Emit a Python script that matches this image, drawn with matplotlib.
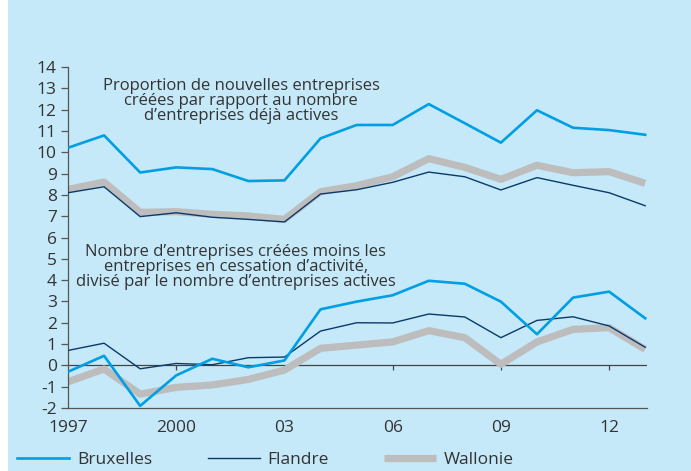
import matplotlib
matplotlib.use("Agg")
import matplotlib.pyplot as plt
from matplotlib.patches import Rectangle

plt.rcParams['font.family'] = ['Open Sans', 'DejaVu Sans']

years = list(range(1997, 2014))

brux_top = [10.21, 10.79, 9.05, 9.29, 9.21, 8.65, 8.68, 10.65, 11.28, 11.28,
            12.26, 11.36, 10.45, 11.97, 11.15, 11.04, 10.82]
fland_top = [8.10, 8.38, 6.98, 7.16, 6.95, 6.85, 6.73, 8.04, 8.24, 8.59,
             9.07, 8.85, 8.23, 8.81, 8.45, 8.10, 7.49]
wall_top = [8.26, 8.60, 7.18, 7.21, 7.09, 7.01, 6.85, 8.15, 8.43, 8.85,
            9.70, 9.29, 8.73, 9.39, 9.04, 9.09, 8.54]

brux_bot = [-0.30, 0.45, -1.90, -0.47, 0.31, -0.09, 0.23, 2.63, 2.99, 3.29,
            3.97, 3.83, 2.99, 1.46, 3.18, 3.46, 2.21]
fland_bot = [0.70, 1.04, -0.16, 0.09, 0.03, 0.36, 0.39, 1.61, 2.00, 1.99,
             2.41, 2.27, 1.30, 2.11, 2.28, 1.85, 0.85]
wall_bot = [-0.77, -0.17, -1.35, -1.03, -0.92, -0.66, -0.22, 0.80, 0.95, 1.10,
            1.63, 1.30, 0.05, 1.10, 1.69, 1.77, 0.75]

xticks = [1997, 2000, 2003, 2006, 2009, 2012]
xticklabels = ['1997', '2000', '03', '06', '09', '12']
yticks = list(range(-2, 15))

series_names = ['Bruxelles', 'Flandre', 'Wallonie']

annot_top = "Proportion de nouvelles entreprises\ncréées par rapport au nombre\nd\u2019entreprises déjà actives"
annot_bot = "Nombre d\u2019entreprises créées moins les\nentreprises en cessation d\u2019activité,\ndivisé par le nombre d\u2019entreprises actives"

BG = '#c5e9f9'
C_BRUX = '#009fe3'
C_FLAN = '#0a3a6b'
C_WALL = '#bdbdbd'
TXT = '#333333'

W, H = 691, 471
fig = plt.figure(figsize=(W / 100, H / 100), dpi=100)
fig.patch.set_facecolor(BG)
fig.patches.append(Rectangle((0, 0), 8 / W, 1, transform=fig.transFigure,
                             facecolor='white', edgecolor='none', zorder=-1))

ax = fig.add_axes([68 / W, 1 - 408 / H, (647 - 68) / W, (408 - 67) / H])
ax.set_facecolor('none')

ax.plot(years, wall_top, color=C_WALL, lw=5.2, solid_capstyle='butt', zorder=2)
ax.plot(years, wall_bot, color=C_WALL, lw=5.2, solid_capstyle='butt', zorder=2)
ax.plot(years, fland_top, color=C_FLAN, lw=1.0, zorder=3)
ax.plot(years, fland_bot, color=C_FLAN, lw=1.0, zorder=3)
ax.plot(years, brux_top, color=C_BRUX, lw=1.9, zorder=4)
ax.plot(years, brux_bot, color=C_BRUX, lw=1.9, zorder=4)

ax.set_xlim(1997, 2013.05)
ax.set_ylim(-2, 14)

# zero line with ticks
ax.axhline(0, color='#444444', lw=0.9, zorder=1)
ax.vlines(xticks[1:], -0.2, 0, color='#444444', lw=0.9, zorder=1)

for s in ['top', 'right']:
    ax.spines[s].set_visible(False)
ax.spines['left'].set_color('#555555')
ax.spines['left'].set_linewidth(0.9)
ax.spines['bottom'].set_color('#555555')
ax.spines['bottom'].set_linewidth(0.9)

ax.set_yticks(yticks)
ax.set_yticklabels([str(v) for v in yticks])
ax.set_xticks(xticks)
ax.set_xticklabels(xticklabels)
ax.tick_params(axis='y', length=5, width=0.9, color='#555555', labelsize=12.5,
               labelcolor=TXT, pad=3)
ax.tick_params(axis='x', length=0, labelsize=12.5, labelcolor=TXT, pad=9)

ax.text(2001.8, 12.4, annot_top, ha='center', va='center', fontsize=12,
        color=TXT, linespacing=0.95)
ax.text(2001.65, 4.62, annot_bot, ha='center', va='center', fontsize=12,
        color=TXT, linespacing=0.9)

handles = [
    plt.Line2D([], [], color=C_BRUX, lw=1.9),
    plt.Line2D([], [], color=C_FLAN, lw=1.0),
    plt.Line2D([], [], color=C_WALL, lw=5.2, solid_capstyle='butt'),
]
fig.legend(handles, series_names, loc='center left',
           bbox_to_anchor=(10 / W, 1 - 460 / H), ncol=3, frameon=False,
           fontsize=12.5, labelcolor=TXT, handlelength=3.0, handletextpad=0.45,
           columnspacing=3.2, borderaxespad=0)

fig.savefig('out.png', dpi=100, facecolor=fig.get_facecolor())
